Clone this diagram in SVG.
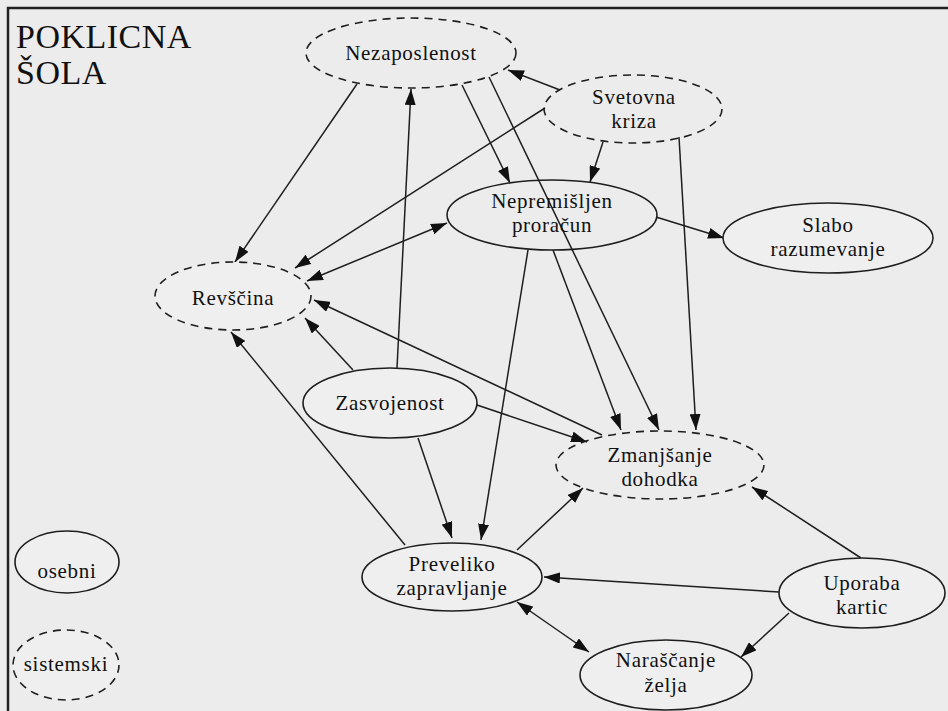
<svg xmlns="http://www.w3.org/2000/svg" width="948" height="711" viewBox="0 0 948 711">
<style>
.bg{fill:#ececec}
.n{fill:#efefef;stroke:#1e1e1e;stroke-width:1.6}
.d{stroke-dasharray:8 6}
.t{font-family:"Liberation Serif","Times New Roman",serif;font-size:21px;fill:#111;text-anchor:middle;letter-spacing:0.7px}
.title{font-family:"Liberation Serif","Times New Roman",serif;font-size:34px;fill:#111;letter-spacing:0.5px}
.e{fill:none;stroke:#1e1e1e;stroke-width:1.5}
.frame{fill:none;stroke:#222;stroke-width:2.5}
</style>
<defs>
<marker id="ah" viewBox="0 0 16 11" refX="16" refY="5.5" markerWidth="16" markerHeight="11" orient="auto-start-reverse" markerUnits="userSpaceOnUse">
<path d="M0,0 L16,5.5 L0,11 z" fill="#111"/>
</marker>
</defs>
<rect class="bg" x="0" y="0" width="948" height="711"/>
<path class="frame" d="M8,720 L8,8 L960,8"/>
<text class="title" x="16" y="48">POKLICNA</text>
<text class="title" x="16" y="84">ŠOLA</text>

<g id="connectors">
<line class="e" x1="357" y1="84" x2="235" y2="262" marker-end="url(#ah)"/>
<line class="e" x1="545" y1="108" x2="295" y2="268" marker-end="url(#ah)"/>
<line class="e" x1="447" y1="223" x2="307" y2="281" marker-start="url(#ah)" marker-end="url(#ah)"/>
<line class="e" x1="397" y1="368" x2="411" y2="89" marker-end="url(#ah)"/>
<line class="e" x1="560" y1="90" x2="508" y2="70" marker-end="url(#ah)"/>
<line class="e" x1="462" y1="85" x2="510" y2="183" marker-end="url(#ah)"/>
<line class="e" x1="603" y1="142" x2="590" y2="182" marker-end="url(#ah)"/>
<line class="e" x1="489" y1="77" x2="659" y2="430" marker-end="url(#ah)"/>
<line class="e" x1="553" y1="250" x2="621" y2="430" marker-end="url(#ah)"/>
<line class="e" x1="679" y1="137" x2="696" y2="430" marker-end="url(#ah)"/>
<line class="e" x1="528" y1="250" x2="481" y2="540" marker-end="url(#ah)"/>
<line class="e" x1="418" y1="438" x2="452" y2="538" marker-end="url(#ah)"/>
<line class="e" x1="353" y1="370" x2="305" y2="318" marker-end="url(#ah)"/>
<line class="e" x1="602" y1="435" x2="314" y2="300" marker-end="url(#ah)"/>
<line class="e" x1="477" y1="405" x2="587" y2="442" marker-end="url(#ah)"/>
<line class="e" x1="405" y1="545" x2="231" y2="332" marker-end="url(#ah)"/>
<line class="e" x1="517" y1="550" x2="583" y2="488" marker-end="url(#ah)"/>
<line class="e" x1="779" y1="592" x2="544" y2="577" marker-end="url(#ah)"/>
<line class="e" x1="861" y1="558" x2="752" y2="487" marker-end="url(#ah)"/>
<line class="e" x1="789" y1="613" x2="741" y2="657" marker-end="url(#ah)"/>
<line class="e" x1="517" y1="602" x2="589" y2="652" marker-start="url(#ah)" marker-end="url(#ah)"/>
<line class="e" x1="656" y1="217" x2="724" y2="238" marker-end="url(#ah)"/>
</g>

<g id="nezaposlenost">
<ellipse class="n d" cx="411" cy="53" rx="105" ry="35" fill-opacity="0"/>
<text class="t" x="411" y="60">Nezaposlenost</text>
</g>
<g id="svetovna-kriza">
<ellipse class="n d" cx="633" cy="109" rx="89" ry="34" fill-opacity="0"/>
<text class="t" x="634" y="104">Svetovna</text>
<text class="t" x="634" y="128">kriza</text>
</g>
<g id="nepremisljen-proracun">
<ellipse class="n" cx="552" cy="215" rx="105" ry="35" fill-opacity="0"/>
<text class="t" x="552" y="208">Nepremišljen</text>
<text class="t" x="552" y="232">proračun</text>
</g>
<g id="slabo-razumevanje">
<ellipse class="n" cx="828" cy="238" rx="105" ry="35"/>
<text class="t" x="828" y="232">Slabo</text>
<text class="t" x="828" y="256">razumevanje</text>
</g>
<g id="revscina">
<ellipse class="n d" cx="233" cy="296" rx="78" ry="34"/>
<text class="t" x="233" y="305">Revščina</text>
</g>
<g id="zasvojenost">
<ellipse class="n" cx="390" cy="403" rx="87" ry="35"/>
<text class="t" x="390" y="410">Zasvojenost</text>
</g>
<g id="zmanjsanje-dohodka">
<ellipse class="n d" cx="660" cy="465" rx="104" ry="34" fill-opacity="0"/>
<text class="t" x="660" y="462">Zmanjšanje</text>
<text class="t" x="660" y="486">dohodka</text>
</g>
<g id="preveliko-zapravljanje">
<ellipse class="n" cx="452" cy="577" rx="90" ry="34"/>
<text class="t" x="452" y="571">Preveliko</text>
<text class="t" x="452" y="595">zapravljanje</text>
</g>
<g id="uporaba-kartic">
<ellipse class="n" cx="862" cy="593" rx="83" ry="35"/>
<text class="t" x="862" y="590">Uporaba</text>
<text class="t" x="862" y="614">kartic</text>
</g>
<g id="narascanje-zelja">
<ellipse class="n" cx="666" cy="675" rx="86" ry="35"/>
<text class="t" x="666" y="667">Naraščanje</text>
<text class="t" x="666" y="692">želja</text>
</g>
<g id="osebni">
<ellipse class="n" cx="67" cy="562" rx="52" ry="31"/>
<text class="t" x="67" y="578">osebni</text>
</g>
<g id="sistemski">
<ellipse class="n d" cx="66" cy="665" rx="53" ry="35"/>
<text class="t" x="66" y="671" letter-spacing="0.3">sistemski</text>
</g>
</svg>
